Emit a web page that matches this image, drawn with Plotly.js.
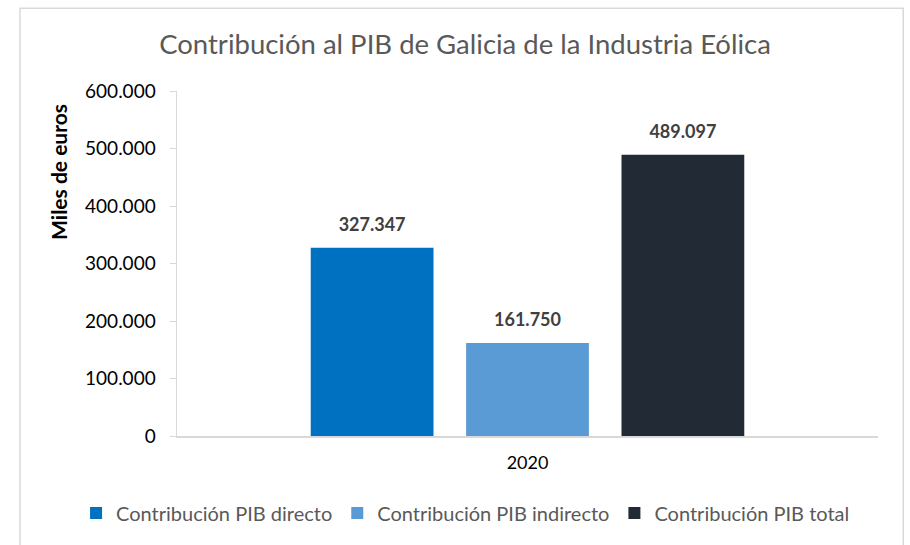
<!DOCTYPE html>
<html><head><meta charset="utf-8">
<script src="https://cdn.plot.ly/plotly-3.0.1.min.js"></script>
<style>body{margin:0;background:#fff}#c{width:910px;height:545px}</style>
</head><body><div id="c"></div>
<script>
const categories = ['2020'];
const seriesNames = ['Contribución PIB directo', 'Contribución PIB indirecto', 'Contribución PIB total'];
const seriesValues = [[327347], [161750], [489097]];
const seriesColors = ['#0070C0', '#5B9BD5', '#222A35'];
const yTicks = [0, 100000, 200000, 300000, 400000, 500000, 600000];
const yTitle = 'Miles de euros';

const FONT = 'Lato, "Open Sans", sans-serif';
const fmt = v => v.toLocaleString('de-DE');

const bars = seriesNames.map((n, i) => ({
  type: 'bar', name: n, x: categories, y: seriesValues[i],
  marker: {color: seriesColors[i]}, offsetgroup: 'g' + i,
  hoverinfo: 'none'
}));
const labels = seriesNames.map((n, i) => ({
  type: 'scatter', mode: 'markers+text', x: categories, y: seriesValues[i],
  offsetgroup: 'g' + i, showlegend: false, cliponaxis: false,
  marker: {size: 18, opacity: 0},
  text: seriesValues[i].map(v => '<b>' + fmt(v) + '</b>'),
  textposition: 'top center',
  textfont: {family: FONT, size: 18, color: '#404040'},
  hoverinfo: 'none'
}));

const layout = {
  width: 910, height: 545,
  margin: {l: 177, r: 32, t: 91, b: 109, autoexpand: false},
  paper_bgcolor: '#fff', plot_bgcolor: '#fff',
  separators: ',.',
  font: {family: FONT, color: '#000'},
  title: {text: 'Contribución al PIB de Galicia de la Industria Eólica',
    font: {family: FONT, size: 27.5, color: '#595959'}, x: 0.511, xanchor: 'center', y: 0.918, yanchor: 'middle'},
  barmode: 'group', bargap: 0.335, bargroupgap: 0.21,
  scattermode: 'group', scattergap: 0.335,
  xaxis: {type: 'category', showline: true, linecolor: '#D9D9D9', linewidth: 1.5,
    ticks: '', tickfont: {family: FONT, size: 18, color: '#000'}, ticklabelstandoff: 10},
  yaxis: {range: [0, 600000], tickvals: yTicks, ticktext: yTicks.map(fmt),
    showgrid: false, zeroline: false, showline: true, linecolor: '#D9D9D9', linewidth: 1.5,
    ticks: 'outside', ticklen: 6, tickcolor: '#D9D9D9',
    tickfont: {family: FONT, size: 19, color: '#000'}, ticklabelstandoff: 10},
  annotations: [{text: '<b>' + yTitle + '</b>', xref: 'paper', yref: 'paper',
    x: -0.17, y: 0.765, xanchor: 'center', yanchor: 'middle', textangle: -90, showarrow: false,
    font: {family: FONT, size: 21, color: '#000'}}],
  showlegend: true,
  legend: {orientation: 'h', x: -0.144, xanchor: 'left', y: -0.223, yanchor: 'middle',
    font: {family: FONT, size: 20, color: '#595959'}, itemwidth: 30},
  shapes: [{type: 'rect', xref: 'paper', yref: 'paper', x0: -0.224, x1: 1.036, y0: -0.35, y1: 1.24,
    line: {color: '#D9D9D9', width: 1.5}, fillcolor: 'rgba(0,0,0,0)', layer: 'below'}]
};
Plotly.newPlot('c', bars.concat(labels), layout, {displayModeBar: false, staticPlot: true});
</script></body></html>
